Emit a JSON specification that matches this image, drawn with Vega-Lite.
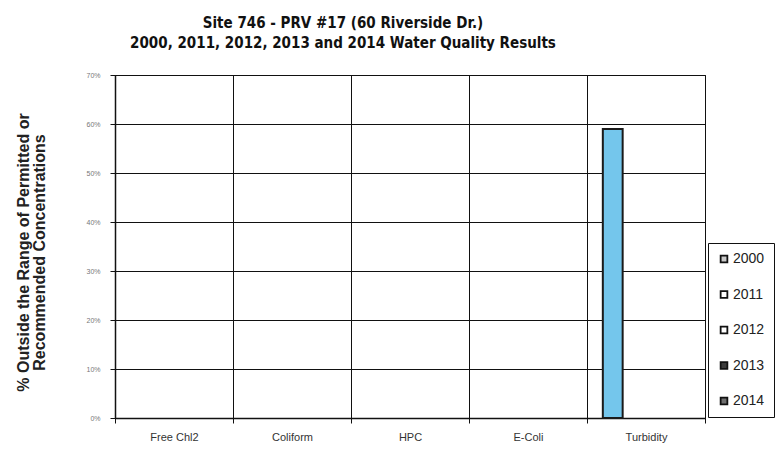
{
  "$schema": "https://vega.github.io/schema/vega-lite/v6.json",
  "width": 590,
  "height": 343,
  "autosize": {"type": "none"},
  "padding": {"left": 115, "top": 75, "right": 77, "bottom": 41},
  "background": "white",
  "title": {
    "text": ["Site 746 - PRV #17 (60 Riverside Dr.)", "2000, 2011, 2012, 2013 and 2014 Water Quality Results"],
    "font": "Liberation Sans Narrow, DejaVu Sans Condensed, Roboto",
    "fontSize": 15,
    "fontWeight": "bold",
    "lineHeight": 20,
    "anchor": "middle",
    "dx": -67,
    "offset": 20,
    "color": "#111"
  },
  "data": {
    "values": [
      {"parameter": "Free Chl2", "year": "2000", "value": 0},
      {"parameter": "Free Chl2", "year": "2011", "value": 0},
      {"parameter": "Free Chl2", "year": "2012", "value": 0},
      {"parameter": "Free Chl2", "year": "2013", "value": 0},
      {"parameter": "Free Chl2", "year": "2014", "value": 0},
      {"parameter": "Coliform", "year": "2000", "value": 0},
      {"parameter": "Coliform", "year": "2011", "value": 0},
      {"parameter": "Coliform", "year": "2012", "value": 0},
      {"parameter": "Coliform", "year": "2013", "value": 0},
      {"parameter": "Coliform", "year": "2014", "value": 0},
      {"parameter": "HPC", "year": "2000", "value": 0},
      {"parameter": "HPC", "year": "2011", "value": 0},
      {"parameter": "HPC", "year": "2012", "value": 0},
      {"parameter": "HPC", "year": "2013", "value": 0},
      {"parameter": "HPC", "year": "2014", "value": 0},
      {"parameter": "E-Coli", "year": "2000", "value": 0},
      {"parameter": "E-Coli", "year": "2011", "value": 0},
      {"parameter": "E-Coli", "year": "2012", "value": 0},
      {"parameter": "E-Coli", "year": "2013", "value": 0},
      {"parameter": "E-Coli", "year": "2014", "value": 0},
      {"parameter": "Turbidity", "year": "2000", "value": 0.59},
      {"parameter": "Turbidity", "year": "2011", "value": 0},
      {"parameter": "Turbidity", "year": "2012", "value": 0},
      {"parameter": "Turbidity", "year": "2013", "value": 0},
      {"parameter": "Turbidity", "year": "2014", "value": 0}
    ]
  },
  "mark": {"type": "bar", "stroke": "#1a1a1a", "strokeWidth": 2},
  "encoding": {
    "x": {
      "field": "parameter",
      "type": "nominal",
      "sort": ["Free Chl2", "Coliform", "HPC", "E-Coli", "Turbidity"],
      "scale": {"paddingInner": 0, "paddingOuter": 0},
      "axis": {
        "title": null,
        "labelAngle": 0,
        "labelFont": "Liberation Sans, Arial",
        "labelFontSize": 11,
        "labelColor": "#333",
        "labelPadding": 8,
        "tickBand": "extent",
        "tickColor": "#111",
        "tickSize": 5,
        "grid": true,
        "gridColor": "#111",
        "gridOpacity": 1,
        "gridWidth": 1,
        "domainColor": "#111",
        "domainWidth": 1.5
      }
    },
    "xOffset": {
      "field": "year",
      "type": "nominal",
      "scale": {"paddingInner": 0, "paddingOuter": 0.475, "align": 0.84}
    },
    "y": {
      "field": "value",
      "type": "quantitative",
      "scale": {"domain": [0, 0.7]},
      "axis": {
        "title": ["% Outside the Range of Permitted or", "Recommended Concentrations"],
        "titleFont": "Liberation Sans, Arial",
        "titleFontSize": 16,
        "titleFontWeight": "bold",
        "titleColor": "#222",
        "titleX": -84,
        "titleY": 177,
        "titleLineHeight": 16,
        "values": [0, 0.1, 0.2, 0.3, 0.4, 0.5, 0.6, 0.7],
        "format": ".0%",
        "labelFont": "Liberation Sans, Arial",
        "labelFontSize": 7,
        "labelColor": "#777",
        "labelPadding": 10,
        "tickSize": 5,
        "tickColor": "#111",
        "domainColor": "#111",
        "domainWidth": 1.5,
        "grid": true,
        "gridColor": "#111",
        "gridOpacity": 1,
        "gridWidth": 1
      }
    },
    "strokeOpacity": {
      "condition": {"test": "datum.value > 0", "value": 1},
      "value": 0
    },
    "color": {
      "condition": {"test": "datum.value > 0", "value": "#74c6ec"},
      "field": "year",
      "type": "nominal",
      "scale": {"domain": ["2000", "2011", "2012", "2013", "2014"], "range": ["#c9c9c9", "#ffffff", "#ffffff", "#3a3a3a", "#6f6f6f"]},
      "legend": {
        "title": null,
        "orient": "none",
        "legendX": 593,
        "legendY": 168,
        "symbolType": "square",
        "symbolSize": 45,
        "symbolStrokeColor": "#111",
        "symbolStrokeWidth": 1.8,
        "symbolOpacity": 1,
        "labelFont": "Liberation Sans, Arial",
        "labelFontSize": 14,
        "labelColor": "#222",
        "labelOffset": 2,
        "rowPadding": 21.5,
        "padding": 9,
        "strokeColor": "#111",
        "fillColor": "white"
      }
    }
  },
  "config": {"view": {"stroke": "#111", "strokeWidth": 1}}
}
